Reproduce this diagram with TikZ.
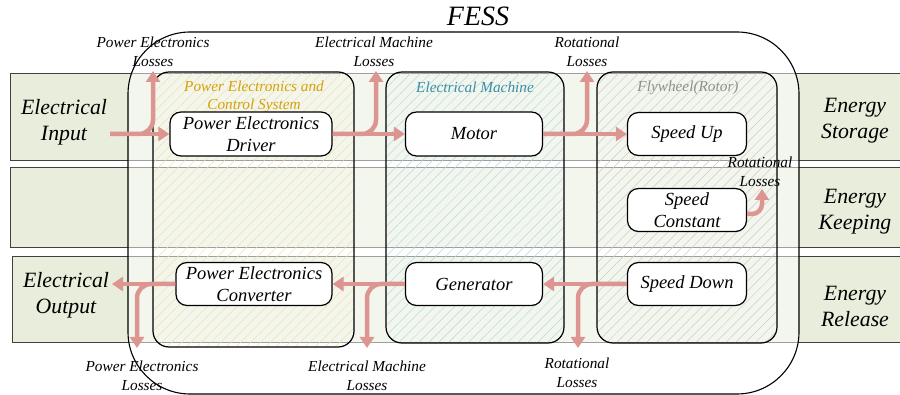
\documentclass[tikz,border=0pt]{standalone}
\usepackage{fontspec}
\setmainfont{Liberation Serif}
\usetikzlibrary{arrows.meta}
\usetikzlibrary{calc, patterns.meta}

\definecolor{bandgreen}{HTML}{E8EEDB}
\definecolor{flowred}{HTML}{DC9591}
\definecolor{hatchpe}{HTML}{F6DFA8}
\definecolor{hatchem}{HTML}{B3DAE6}
\definecolor{hatchfw}{HTML}{CCCCCC}
\definecolor{titlepe}{HTML}{D4A20A}
\definecolor{titleem}{HTML}{3A8FA6}
\definecolor{titlefw}{HTML}{8F8F8F}

\begin{document}
\begin{tikzpicture}[x=1pt, y=-1pt,
    band/.style={draw=black!75, fill=bandgreen, line width=1pt},
    stage/.style={draw=black, line width=1.2pt, rounded corners=16pt},
    unit/.style={draw, fill=white, rounded corners=11pt, line width=1.2pt, align=center, inner sep=0pt, font=\fontsize{18.5}{22}\selectfont\itshape},
    side/.style={align=center, font=\fontsize{21.8}{26}\selectfont\itshape},
    loss/.style={align=center, inner sep=0pt, font=\fontsize{15.3}{19}\selectfont\itshape},
    title/.style={align=center, inner sep=0pt, font=\fontsize{15.3}{18}\selectfont\itshape},
    flow/.style={draw=flowred, line width=4.5pt, -{Triangle[length=11pt,width=14pt]}},
    branch/.style={flow, rounded corners=14pt}]
          \useasboundingbox (0,0) rectangle (900,395);

          \draw [band] (10,74) rectangle (901,161); % Draws the storage band
          \draw [band] (10,168) rectangle (901,248); % Draws the keeping band
          \draw [band] (12,257) rectangle (901,343); % Draws the release band

          \draw [black, fill=white, fill opacity=0.5, line width=1.1pt, rounded corners=62pt] (128,32) rectangle (799,394); % Draws the FESS box
          \node [font=\fontsize{28}{30}\selectfont\itshape] (fess) at (478,16) {FESS};

          \draw [stage, pattern={Lines[angle=45,distance=7pt,line width=0.5pt]}, pattern color=hatchpe] (153,72) rectangle (354,347);
          \draw [stage, pattern={Lines[angle=45,distance=7pt,line width=0.5pt]}, pattern color=hatchem] (386,72) rectangle (564,343);
          \draw [stage, pattern={Lines[angle=45,distance=7pt,line width=0.5pt]}, pattern color=hatchfw] (597,72) rectangle (777,343);

          \node [title, text=titlepe] (pet) at (254,97) {Power Electronics and\\Control System};
          \node [title, text=titleem] (emt) at (475,87) {Electrical Machine};
          \node [title, text=titlefw] (fwt) at (688,88) {Flywheel(Rotor)};

          \node [side] (ein) at (64,122) {Electrical\\Input};
          \node [side] (eout) at (66,295) {Electrical\\Output};
          \node [side] (est) at (855,121) {Energy\\Storage};
          \node [side] (ekp) at (855,212) {Energy\\Keeping};
          \node [side] (erl) at (855,306) {Energy\\Release};

          \node [unit, minimum width=162pt, minimum height=44pt] (ped) at (251,134) {Power Electronics\\Driver};
          \node [unit, minimum width=137pt, minimum height=44pt] (mot) at (474,134) {Motor};
          \node [unit, minimum width=119pt, minimum height=43pt] (sup) at (687,134) {Speed Up};
          \node [unit, minimum width=119pt, minimum height=43pt] (scs) at (687,210) {Speed\\Constant};
          \node [unit, minimum width=119pt, minimum height=43pt] (sdn) at (687,284) {Speed Down};
          \node [unit, minimum width=137pt, minimum height=43pt] (gen) at (474,284) {Generator};
          \node [unit, minimum width=156pt, minimum height=43pt] (pec) at (254,284) {Power Electronics\\Converter};

          \node [loss] (pel1) at (153,52) {Power Electronics\\Losses};
          \node [loss] (eml1) at (374,52) {Electrical Machine\\Losses};
          \node [loss] (rl1) at (587,52) {Rotational\\Losses};
          \node [loss] (rl2) at (760,172) {Rotational\\Losses};
          \node [loss] (rl3) at (577,373) {Rotational\\Losses};
          \node [loss] (eml2) at (367,376) {Electrical Machine\\Losses};
          \node [loss] (pel2) at (142,376) {Power Electronics\\Losses};

          \coordinate (inS) at (110,134);
          \coordinate (outE) at (112,284);
          \coordinate (pelA) at (153,71);
          \coordinate (emlA) at (376,71);
          \coordinate (rlA) at (587,71);
          \coordinate (rlB) at (762,189);
          \coordinate (rlC) at (578,348);
          \coordinate (emlB) at (367,348);
          \coordinate (pelB) at (137,348);

          \draw [flow] (inS) -- (ped.west);
          \draw [branch] (inS) -| (pelA);
          \draw [flow] (ped.east) -- (mot.west);
          \draw [branch] (ped.east) -| (emlA);
          \draw [flow] (mot.east) -- (sup.west);
          \draw [branch] (mot.east) -| (rlA);

          \draw [branch, rounded corners=10pt] ([yshift=-4pt]scs.east) -| (rlB);

          \draw [flow] (sdn.west) -- (gen.east);
          \draw [branch] (sdn.west) -| (rlC);
          \draw [flow] (gen.west) -- (pec.east);
          \draw [branch] (gen.west) -| (emlB);
          \draw [flow] (pec.west) -- (outE);
          \draw [branch] (pec.west) -| (pelB);
        \end{tikzpicture}
\end{document}
